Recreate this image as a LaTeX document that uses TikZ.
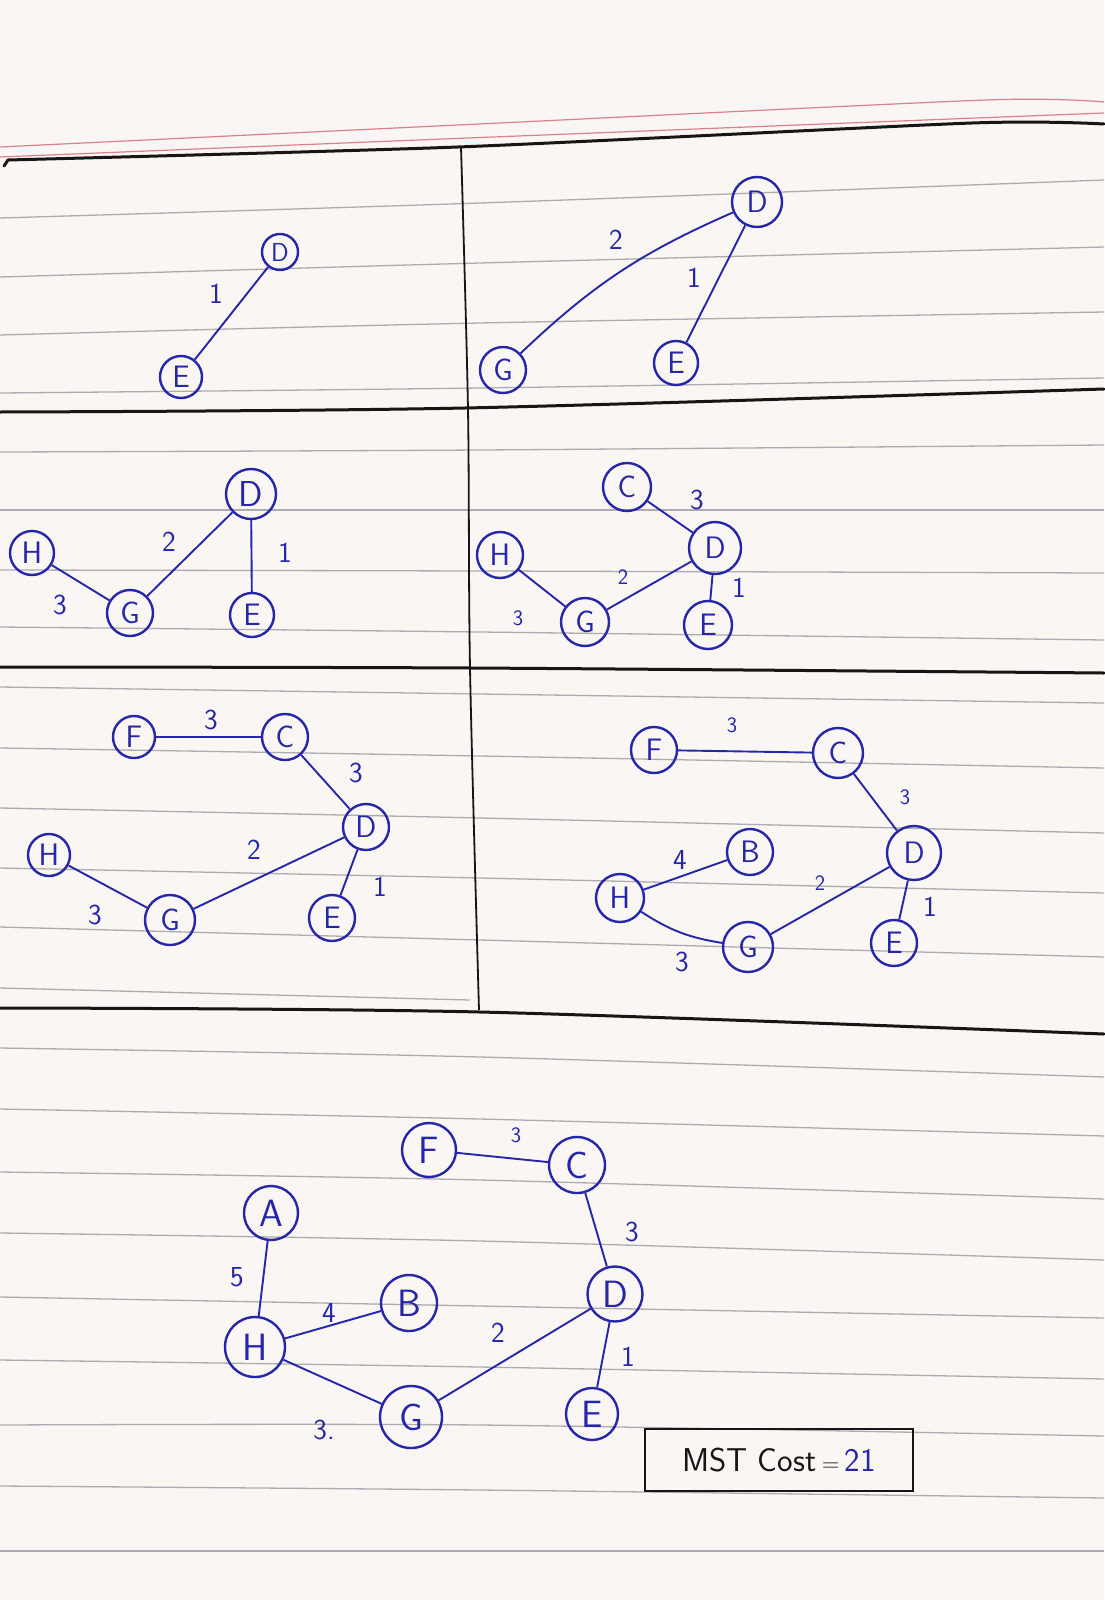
\documentclass[tikz,border=0pt]{standalone}
\usepackage{fontspec}
\begin{document}
\definecolor{ink}{RGB}{38,38,168}
\definecolor{paper}{RGB}{250,246,243}
\definecolor{rulec}{RGB}{140,140,150}
\definecolor{redrule}{RGB}{210,100,115}
\definecolor{pen}{RGB}{22,22,22}
\begin{tikzpicture}[x=1pt,y=-1pt,
  vtx/.style={circle,draw=ink,line width=2.4pt,inner sep=0pt,text=ink,font=\sffamily\fontsize{31}{31}\selectfont},
  vtxL/.style={vtx,font=\sffamily\fontsize{38}{38}\selectfont},
  wt/.style={text=ink,inner sep=0pt,font=\sffamily\fontsize{29}{29}\selectfont},
  wts/.style={wt,font=\sffamily\fontsize{22}{22}\selectfont},
  link/.style={draw=ink,line width=1.9pt},
  ruled/.style={draw=rulec,line width=1.3pt,opacity=0.7},
  redl/.style={draw=redrule,line width=1.2pt,opacity=0.8},
  blackl/.style={draw=pen,line width=3pt,line cap=round},
  thinl/.style={draw=pen,line width=1.8pt}]
\useasboundingbox (0,0) rectangle (1104,1600);
\fill[paper] (0,0) rectangle (1104,1600);

% ruled lines
\foreach \a/\b/\c in {218/203/180, 277/263/247, 335/323/312, 393/388/378,
  452/450/445, 510/510/510, 570/571/573, 627/632/640,
  687/694/703, 748/756/768, 808/818/833, 868/878/893, 927/940/957,
  1048/1057/1077, 1109/1119/1136, 1172/1180/1199, 1233/1241/1260, 1297/1306/1318,
  1360/1367/1379, 1425/1425/1436, 1486/1490/1498, 1551/1551/1551}
  \draw[ruled] plot[smooth,tension=0.5] coordinates {(0,\a) (480,\b) (1104,\c)};
\draw[ruled] plot[smooth,tension=0.5] coordinates {(0,988) (470,1000)};

% red margin lines
\draw[redl] plot[smooth,tension=0.4] coordinates {(0,147) (458,125) (986,100) (1104,102)};
\draw[redl] plot[smooth,tension=0.4] coordinates {(0,157) (493,137) (1104,113)};

% black panel lines
\draw[blackl] (4,166) -- (8,160);
\draw[blackl] plot[smooth,tension=0.4] coordinates {(8,160) (458,147) (972,123) (1104,124)};
\draw[blackl] plot[smooth,tension=0.5] coordinates {(0,412) (465,408) (1104,389)};
\draw[blackl] plot[smooth,tension=0.5] coordinates {(0,667) (470,668) (1104,673)};
\draw[blackl] plot[smooth,tension=0.5] coordinates {(0,1008) (480,1012) (1104,1034)};
\draw[thinl] plot[smooth,tension=0.5] coordinates {(461,147) (468,410) (470,668) (479,1010)};

% ---- panel 1
\node[vtx,minimum size=36pt,font=\sffamily\fontsize{26}{26}\selectfont] (p1d) at (280,252) {D};
\node[vtx,minimum size=42pt] (p1e) at (181,377) {E};
\draw[link] (p1e) -- (p1d);
\node[wt] (p1w1) at (216,294) {1};

% ---- panel 2
\node[vtx,minimum size=50pt] (p2d) at (757,202) {D};
\node[vtx,minimum size=46pt] (p2g) at (503,370) {G};
\node[vtx,minimum size=44pt] (p2e) at (676,363) {E};
\draw[link] (p2g) to[bend left=10] (p2d);
\draw[link] (p2e) -- (p2d);
\node[wt] (p2w2) at (616,240) {2};
\node[wt] (p2w1) at (694,278) {1};

% ---- panel 3
\node[vtx,minimum size=50pt,font=\sffamily\fontsize{36}{36}\selectfont] (p3d) at (251,494) {D};
\node[vtx,minimum size=44pt] (p3h) at (32,553) {H};
\node[vtx,minimum size=46pt] (p3g) at (130,613) {G};
\node[vtx,minimum size=44pt] (p3e) at (252,615) {E};
\draw[link] (p3h) -- (p3g);
\draw[link] (p3g) -- (p3d);
\draw[link] (p3d) -- (p3e);
\node[wt] (p3w3) at (60,605) {3};
\node[wt] (p3w2) at (169,542) {2};
\node[wt] (p3w1) at (285,553) {1};

% ---- panel 4
\node[vtx,minimum size=48pt] (p4c) at (627,487) {C};
\node[vtx,minimum size=52pt] (p4d) at (715,548) {D};
\node[vtx,minimum size=46pt] (p4h) at (500,555) {H};
\node[vtx,minimum size=48pt] (p4g) at (585,622) {G};
\node[vtx,minimum size=48pt] (p4e) at (708,625) {E};
\draw[link] (p4c) -- (p4d);
\draw[link] (p4h) -- (p4g);
\draw[link] (p4g) -- (p4d);
\draw[link] (p4d) -- (p4e);
\node[wt] (p4w3a) at (697,500) {3};
\node[wts] (p4w2) at (623,577) {2};
\node[wts] (p4w3b) at (518,618) {3};
\node[wt] (p4w1) at (739,588) {1};

% ---- panel 5
\node[vtx,minimum size=42pt] (p5f) at (134,737) {F};
\node[vtx,minimum size=46pt] (p5c) at (285,737) {C};
\node[vtx,minimum size=46pt] (p5d) at (366,827) {D};
\node[vtx,minimum size=42pt] (p5h) at (49,855) {H};
\node[vtx,minimum size=50pt] (p5g) at (170,920) {G};
\node[vtx,minimum size=46pt] (p5e) at (332,918) {E};
\draw[link] (p5f) -- (p5c);
\draw[link] (p5c) -- (p5d);
\draw[link] (p5h) -- (p5g);
\draw[link] (p5g) -- (p5d);
\draw[link] (p5d) -- (p5e);
\node[wt] (p5w3a) at (211,720) {3};
\node[wt] (p5w3b) at (356,773) {3};
\node[wt] (p5w2) at (254,850) {2};
\node[wt] (p5w1) at (380,887) {1};
\node[wt] (p5w3c) at (95,915) {3};

% ---- panel 6
\node[vtx,minimum size=46pt] (p6f) at (654,750) {F};
\node[vtx,minimum size=50pt] (p6c) at (838,753) {C};
\node[vtx,minimum size=46pt] (p6b) at (750,852) {B};
\node[vtx,minimum size=54pt] (p6d) at (914,853) {D};
\node[vtx,minimum size=48pt] (p6h) at (620,898) {H};
\node[vtx,minimum size=50pt] (p6g) at (748,947) {G};
\node[vtx,minimum size=46pt] (p6e) at (894,943) {E};
\draw[link] (p6f) -- (p6c);
\draw[link] (p6c) -- (p6d);
\draw[link] (p6h) -- (p6b);
\draw[link] (p6h) to[bend right=12] (p6g);
\draw[link] (p6g) -- (p6d);
\draw[link] (p6d) -- (p6e);
\node[wts] (p6w3a) at (732,725) {3};
\node[wts] (p6w3b) at (905,797) {3};
\node[wt] (p6w4) at (680,860) {4};
\node[wts] (p6w2) at (820,883) {2};
\node[wt] (p6w1) at (930,907) {1};
\node[wt] (p6w3c) at (682,962) {3};

% ---- panel 7
\node[vtxL,minimum size=54pt] (p7f) at (429,1150) {F};
\node[vtxL,minimum size=56pt] (p7c) at (577,1165) {C};
\node[vtxL,minimum size=54pt] (p7a) at (271,1213) {A};
\node[vtxL,minimum size=56pt] (p7b) at (409,1303) {B};
\node[vtxL,minimum size=55pt] (p7d) at (615,1294) {D};
\node[vtxL,minimum size=60pt] (p7h) at (255,1347) {H};
\node[vtxL,minimum size=62pt] (p7g) at (411,1417) {G};
\node[vtxL,minimum size=52pt] (p7e) at (592,1414) {E};
\draw[link] (p7f) -- (p7c);
\draw[link] (p7c) -- (p7d);
\draw[link] (p7a) -- (p7h);
\draw[link] (p7h) -- (p7b);
\draw[link] (p7h) -- (p7g);
\draw[link] (p7g) -- (p7d);
\draw[link] (p7d) -- (p7e);
\node[wts] (p7w3a) at (516,1135) {3};
\node[wt] (p7w3b) at (632,1232) {3};
\node[wt] (p7w5) at (237,1277) {5};
\node[wt] (p7w4) at (329,1313) {4};
\node[wt] (p7w2) at (498,1333) {2};
\node[wt] (p7w1) at (628,1357) {1};
\node[wt] (p7w3c) at (324,1430) {3.};

% ---- MST cost box
\node[draw=pen,line width=2.6pt,minimum width=268pt,minimum height=62pt,inner sep=0pt,
  text=pen,font=\sffamily\fontsize{33}{33}\selectfont] (mst) at (779,1460)
  {MST Cost\,{\fontsize{24}{24}\selectfont=}\,{\color{ink}21}};
\end{tikzpicture}
\end{document}
